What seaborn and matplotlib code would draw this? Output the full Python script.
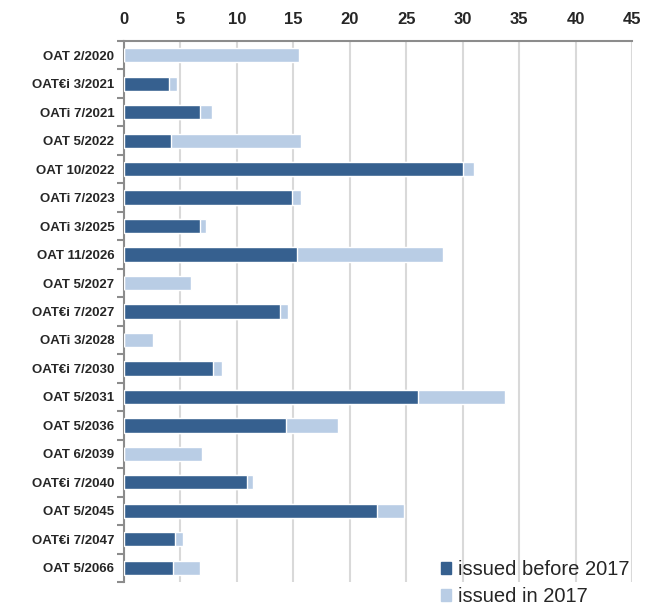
import matplotlib.pyplot as plt
import matplotlib.ticker as ticker
from matplotlib.patches import Patch
import seaborn as sns
import pandas as pd
import numpy as np

bonds = ["OAT 2/2020", "OAT€i 3/2021", "OATi 7/2021", "OAT 5/2022", "OAT 10/2022",
         "OATi 7/2023", "OATi 3/2025", "OAT 11/2026", "OAT 5/2027", "OAT€i 7/2027",
         "OATi 3/2028", "OAT€i 7/2030", "OAT 5/2031", "OAT 5/2036", "OAT 6/2039",
         "OAT€i 7/2040", "OAT 5/2045", "OAT€i 7/2047", "OAT 5/2066"]
before_2017 = [0, 4.0, 6.7, 4.15, 30.0, 14.85, 6.7, 15.35, 0, 13.8,
               0, 7.9, 26.0, 14.35, 0, 10.9, 22.4, 4.5, 4.35]
total_2017 = [15.5, 4.7, 7.8, 15.7, 31.0, 15.7, 7.3, 28.3, 5.9, 14.5,
              2.6, 8.65, 33.75, 19.0, 6.9, 11.4, 24.8, 5.2, 6.75]

dark = "#36608f"
light = "#b9cde5"

sns.set_style("white")
plt.rcParams["font.family"] = ["Liberation Sans", "DejaVu Sans"]

df = pd.DataFrame({"bond": bonds, "before": before_2017, "total": total_2017})

fig = plt.figure(figsize=(6.56, 6.07), dpi=100)
ax = fig.add_axes([124 / 656, 1 - 582 / 607, 508 / 656, 541 / 607])

# light bar = total, dark bar drawn on top = stock issued before 2017
sns.barplot(data=df, y="bond", x="total", color=light, orient="h", width=0.5,
            saturation=1, ax=ax, zorder=2)
sns.barplot(data=df, y="bond", x="before", color=dark, orient="h", width=0.5,
            saturation=1, ax=ax, zorder=3)

ax.set_xlim(0, 45)
ax.set_ylim(len(bonds) - 0.5, -0.5)
ax.xaxis.set_major_locator(ticker.MultipleLocator(5))
ax.xaxis.tick_top()
ax.grid(axis="x", color="#d9d9d9", linewidth=1.5, zorder=0)
ax.set_axisbelow(True)
ax.set_xlabel(None)
ax.set_ylabel(None)

for s in ["right", "bottom"]:
    ax.spines[s].set_visible(False)
for s in ["left", "top"]:
    ax.spines[s].set_color("#8c8c8c")
    ax.spines[s].set_linewidth(1.5)

ax.tick_params(axis="x", length=0, pad=10, labelsize=12)
for lbl in ax.get_xticklabels():
    lbl.set_fontweight("bold")

ax.tick_params(axis="y", which="major", left=True, length=0, pad=7, labelsize=9.5)
for lbl in ax.get_yticklabels():
    lbl.set_fontweight("bold")
ax.yaxis.set_minor_locator(ticker.FixedLocator(np.arange(-0.5, len(bonds), 1)))
ax.tick_params(axis="y", which="minor", left=True, length=5, width=1.5,
               color="#8c8c8c", direction="out")

handles = [Patch(color=dark, label="issued before 2017"),
           Patch(color=light, label="issued in 2017")]
fig.legend(handles=handles, loc="lower left", bbox_to_anchor=(441 / 656, 1 / 607),
           frameon=False, fontsize=14.5, handlelength=0.5, handleheight=0.5,
           handletextpad=0.35, labelspacing=0.4, borderpad=0, borderaxespad=0)

fig.savefig("out.png", dpi=100)
